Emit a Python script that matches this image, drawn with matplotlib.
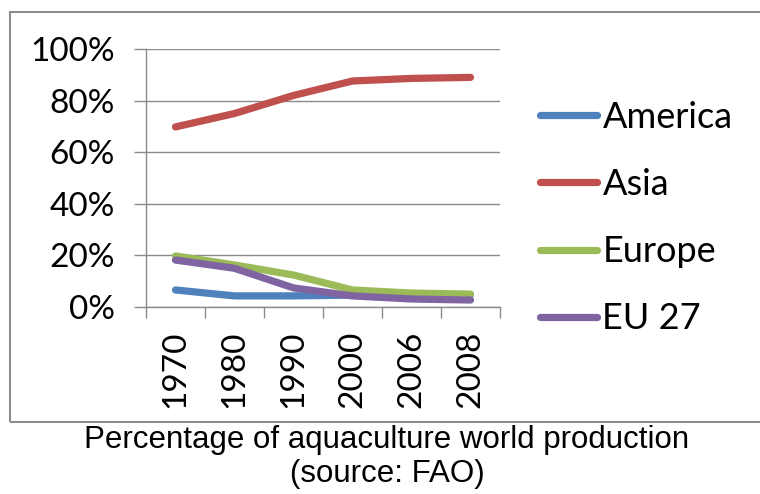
import matplotlib.pyplot as plt
from matplotlib.patches import Rectangle
from matplotlib.ticker import FixedLocator, PercentFormatter

years = ['1970', '1980', '1990', '2000', '2006', '2008']
america = [6.6, 4.3, 4.3, 4.6, 4.6, 4.7]
asia = [69.8, 75.0, 82.0, 87.6, 88.6, 89.0]
europe = [19.8, 16.3, 12.4, 6.6, 5.4, 5.0]
eu27 = [18.2, 15.0, 7.4, 4.3, 3.1, 2.7]

series = [
    ('America', america, '#4F81BD'),
    ('Asia', asia, '#C0504D'),
    ('Europe', europe, '#9BBB59'),
    ('EU 27', eu27, '#8064A2'),
]

fig = plt.figure(figsize=(7.6, 4.94), dpi=100)
ax = fig.add_axes([146 / 760, 1 - 307 / 494, 354 / 760, 258 / 494])

x = range(len(years))
for name, vals, col in series:
    ax.plot(x, vals, color=col, lw=5.2, label=name,
            solid_capstyle='round', solid_joinstyle='round')

ax.set_xlim(-0.5, len(years) - 0.5)
ax.set_ylim(0, 100)
ax.set_yticks([0, 20, 40, 60, 80, 100])
ax.yaxis.set_major_formatter(PercentFormatter(decimals=0))
ax.grid(axis='y', color='#8a8a8a', lw=1)
ax.set_axisbelow(True)

# category labels centred, tick marks between categories
ax.set_xticks(list(x))
ax.set_xticklabels(years, rotation=90)
ax.xaxis.set_minor_locator(FixedLocator([i - 0.5 for i in range(len(years) + 1)]))
ax.tick_params(axis='x', which='major', length=0, pad=17)
ax.tick_params(axis='x', which='minor', length=8, color='#8a8a8a', width=1)
ax.tick_params(axis='y', length=8.6, color='#8a8a8a', width=1, pad=14)

for lab in ax.get_xticklabels() + ax.get_yticklabels():
    lab.set_fontfamily('Lato')
    lab.set_fontsize(24)

for s in ['top', 'right']:
    ax.spines[s].set_visible(False)
for s in ['left', 'bottom']:
    ax.spines[s].set_color('#8a8a8a')
    ax.spines[s].set_linewidth(1)

leg = ax.legend(loc='center left', bbox_to_anchor=(540 / 760, 1 - 218 / 494),
                bbox_transform=fig.transFigure, frameon=False,
                prop={'family': 'Lato', 'size': 26},
                borderpad=0, borderaxespad=0,
                handlelength=1.58, handletextpad=0.15, labelspacing=0.95)
for h in leg.get_lines():
    h.set_linewidth(5.2)

# outer frame
fig.patches.append(Rectangle((10 / 760, 1 - 422 / 494), 760 / 760, 410 / 494,
                             transform=fig.transFigure, fill=False,
                             edgecolor='#8c8c8c', lw=1.5))

fig.text(387 / 760, 1 - 440 / 494, 'Percentage of aquaculture world production',
         ha='center', va='center', fontsize=22.5, fontfamily='Liberation Sans')
fig.text(387 / 760, 1 - 474 / 494, '(source: FAO)',
         ha='center', va='center', fontsize=22.5, fontfamily='Liberation Sans')

fig.savefig('out.png', dpi=100)
